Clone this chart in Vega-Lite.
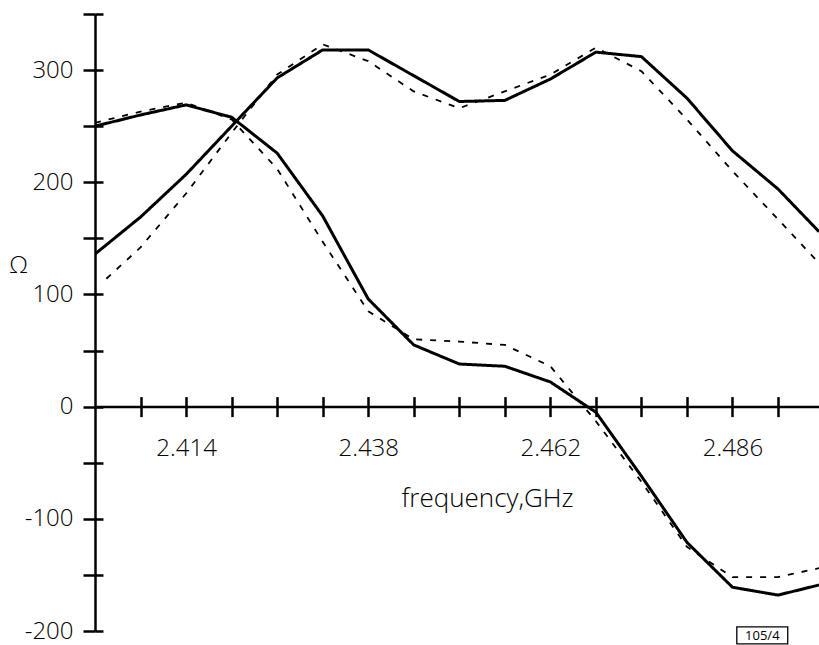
{
  "$schema": "https://vega.github.io/schema/vega-lite/v6.json",
  "width": 724,
  "height": 617,
  "autosize": "none",
  "padding": {"left": 95, "top": 14, "right": 0, "bottom": 14},
  "background": "white",
  "config": {
    "view": {"stroke": null},
    "axis": {
      "labelFont": "Open Sans", "titleFont": "Open Sans",
      "labelFontWeight": 300, "titleFontWeight": 300,
      "labelFontSize": 24, "titleFontSize": 26,
      "labelColor": "#000", "titleColor": "#000",
      "domainColor": "#000", "tickColor": "#000",
      "domainWidth": 2.5, "tickWidth": 2.5,
      "grid": false, "labelOverlap": false, "labelFlush": false
    }
  },
  "datasets": {
    "curves": [
      {"f": 2.402, "ohm": 136, "curve": "R", "line": "solid"},
      {"f": 2.408, "ohm": 169, "curve": "R", "line": "solid"},
      {"f": 2.414, "ohm": 207, "curve": "R", "line": "solid"},
      {"f": 2.420, "ohm": 250, "curve": "R", "line": "solid"},
      {"f": 2.426, "ohm": 293, "curve": "R", "line": "solid"},
      {"f": 2.432, "ohm": 318, "curve": "R", "line": "solid"},
      {"f": 2.438, "ohm": 318, "curve": "R", "line": "solid"},
      {"f": 2.444, "ohm": 295, "curve": "R", "line": "solid"},
      {"f": 2.450, "ohm": 272, "curve": "R", "line": "solid"},
      {"f": 2.456, "ohm": 273, "curve": "R", "line": "solid"},
      {"f": 2.462, "ohm": 292, "curve": "R", "line": "solid"},
      {"f": 2.468, "ohm": 316, "curve": "R", "line": "solid"},
      {"f": 2.474, "ohm": 312, "curve": "R", "line": "solid"},
      {"f": 2.480, "ohm": 275, "curve": "R", "line": "solid"},
      {"f": 2.486, "ohm": 228, "curve": "R", "line": "solid"},
      {"f": 2.492, "ohm": 194, "curve": "R", "line": "solid"},
      {"f": 2.4974, "ohm": 156, "curve": "R", "line": "solid"},

      {"f": 2.4035, "ohm": 114, "curve": "R", "line": "dashed"},
      {"f": 2.408, "ohm": 142, "curve": "R", "line": "dashed"},
      {"f": 2.414, "ohm": 190, "curve": "R", "line": "dashed"},
      {"f": 2.420, "ohm": 244, "curve": "R", "line": "dashed"},
      {"f": 2.426, "ohm": 296, "curve": "R", "line": "dashed"},
      {"f": 2.432, "ohm": 323, "curve": "R", "line": "dashed"},
      {"f": 2.438, "ohm": 308, "curve": "R", "line": "dashed"},
      {"f": 2.444, "ohm": 281, "curve": "R", "line": "dashed"},
      {"f": 2.450, "ohm": 266, "curve": "R", "line": "dashed"},
      {"f": 2.456, "ohm": 281, "curve": "R", "line": "dashed"},
      {"f": 2.462, "ohm": 296, "curve": "R", "line": "dashed"},
      {"f": 2.468, "ohm": 320, "curve": "R", "line": "dashed"},
      {"f": 2.474, "ohm": 299, "curve": "R", "line": "dashed"},
      {"f": 2.480, "ohm": 256, "curve": "R", "line": "dashed"},
      {"f": 2.486, "ohm": 210, "curve": "R", "line": "dashed"},
      {"f": 2.492, "ohm": 167, "curve": "R", "line": "dashed"},
      {"f": 2.4974, "ohm": 128, "curve": "R", "line": "dashed"},

      {"f": 2.402, "ohm": 250, "curve": "X", "line": "solid"},
      {"f": 2.408, "ohm": 260, "curve": "X", "line": "solid"},
      {"f": 2.414, "ohm": 269, "curve": "X", "line": "solid"},
      {"f": 2.420, "ohm": 258, "curve": "X", "line": "solid"},
      {"f": 2.426, "ohm": 226, "curve": "X", "line": "solid"},
      {"f": 2.432, "ohm": 170, "curve": "X", "line": "solid"},
      {"f": 2.438, "ohm": 96, "curve": "X", "line": "solid"},
      {"f": 2.444, "ohm": 55, "curve": "X", "line": "solid"},
      {"f": 2.450, "ohm": 38, "curve": "X", "line": "solid"},
      {"f": 2.456, "ohm": 36, "curve": "X", "line": "solid"},
      {"f": 2.462, "ohm": 22, "curve": "X", "line": "solid"},
      {"f": 2.468, "ohm": -5, "curve": "X", "line": "solid"},
      {"f": 2.474, "ohm": -62, "curve": "X", "line": "solid"},
      {"f": 2.480, "ohm": -121, "curve": "X", "line": "solid"},
      {"f": 2.486, "ohm": -161, "curve": "X", "line": "solid"},
      {"f": 2.492, "ohm": -168, "curve": "X", "line": "solid"},
      {"f": 2.4974, "ohm": -159, "curve": "X", "line": "solid"},

      {"f": 2.402, "ohm": 253, "curve": "X", "line": "dashed"},
      {"f": 2.408, "ohm": 263, "curve": "X", "line": "dashed"},
      {"f": 2.414, "ohm": 271, "curve": "X", "line": "dashed"},
      {"f": 2.420, "ohm": 256, "curve": "X", "line": "dashed"},
      {"f": 2.426, "ohm": 212, "curve": "X", "line": "dashed"},
      {"f": 2.432, "ohm": 147, "curve": "X", "line": "dashed"},
      {"f": 2.438, "ohm": 85, "curve": "X", "line": "dashed"},
      {"f": 2.444, "ohm": 60, "curve": "X", "line": "dashed"},
      {"f": 2.450, "ohm": 58, "curve": "X", "line": "dashed"},
      {"f": 2.456, "ohm": 55, "curve": "X", "line": "dashed"},
      {"f": 2.462, "ohm": 36, "curve": "X", "line": "dashed"},
      {"f": 2.468, "ohm": -13, "curve": "X", "line": "dashed"},
      {"f": 2.474, "ohm": -67, "curve": "X", "line": "dashed"},
      {"f": 2.480, "ohm": -125, "curve": "X", "line": "dashed"},
      {"f": 2.486, "ohm": -152, "curve": "X", "line": "dashed"},
      {"f": 2.492, "ohm": -152, "curve": "X", "line": "dashed"},
      {"f": 2.4974, "ohm": -144, "curve": "X", "line": "dashed"}
    ],
    "figlabel": [
      {"f0": 2.48657, "f1": 2.49328, "o0": -196.4, "o1": -211.5, "fc": 2.48993, "oc": -204.2, "text": "105/4"}
    ]
  },
  "data": {"name": "curves"},
  "layer": [
    {
      "mark": {"type": "line", "clip": true, "color": "#000", "strokeJoin": "round"},
      "encoding": {
        "x": {
          "field": "f", "type": "quantitative",
          "scale": {"domain": [2.402, 2.4974], "nice": false, "zero": false},
          "axis": {
            "orient": "bottom", "offset": -224.4,
            "values": [2.408, 2.414, 2.42, 2.426, 2.432, 2.438, 2.444, 2.45, 2.456, 2.462, 2.468, 2.474, 2.48, 2.486, 2.492],
            "tickSize": 10, "labelPadding": 20,
            "labelExpr": "(abs(datum.value - 2.414) < 0.0001 || abs(datum.value - 2.438) < 0.0001 || abs(datum.value - 2.462) < 0.0001 || abs(datum.value - 2.486) < 0.0001) ? format(datum.value, '.3f') : ''",
            "title": "frequency,GHz", "titleX": 392, "titleY": 92,
            "titleBaseline": "middle", "titleAlign": "center"
          }
        },
        "y": {
          "field": "ohm", "type": "quantitative",
          "scale": {"domain": [-200, 350], "nice": false, "zero": false},
          "axis": {
            "orient": "left",
            "values": [-200, -150, -100, -50, 0, 50, 100, 150, 200, 250, 300, 350],
            "tickSize": 12, "labelPadding": 10,
            "labelExpr": "(datum.value % 100 == 0 && datum.value <= 300) ? ('' + datum.value) : ''",
            "title": "Ω", "titleAngle": 0, "titleX": -77, "titleY": 251,
            "titleFontSize": 24,
            "titleAlign": "center", "titleBaseline": "middle"
          }
        },
        "detail": {"field": "curve"},
        "strokeDash": {
          "field": "line", "type": "nominal",
          "scale": {"domain": ["solid", "dashed"], "range": [[1, 0], [6, 8]]},
          "legend": null
        },
        "strokeWidth": {
          "field": "line", "type": "nominal",
          "scale": {"domain": ["solid", "dashed"], "range": [3, 1.8]},
          "legend": null
        }
      }
    },
    {
      "mark": {"type": "line", "opacity": 0},
      "encoding": {
        "x": {
          "field": "f", "type": "quantitative",
          "scale": {"domain": [2.402, 2.4974], "nice": false, "zero": false},
          "axis": {
            "orient": "top", "offset": -392.6,
            "values": [2.408, 2.414, 2.42, 2.426, 2.432, 2.438, 2.444, 2.45, 2.456, 2.462, 2.468, 2.474, 2.48, 2.486, 2.492],
            "tickSize": 10, "labels": false, "domain": false, "title": null
          }
        },
        "y": {
          "field": "ohm", "type": "quantitative",
          "scale": {"domain": [-200, 350], "nice": false, "zero": false},
          "axis": {
            "orient": "right", "offset": -724,
            "values": [-200, -150, -100, -50, 0, 50, 100, 150, 200, 250, 300, 350],
            "tickSize": 8, "labels": false, "domain": false, "title": null
          }
        },
        "detail": {"field": "curve"}
      }
    },
    {
      "data": {"name": "figlabel"},
      "mark": {"type": "rect", "fill": null, "stroke": "#000", "strokeWidth": 1.3, "clip": false},
      "encoding": {
        "x": {"field": "f0", "type": "quantitative", "axis": null},
        "x2": {"field": "f1"},
        "y": {"field": "o0", "type": "quantitative", "axis": null},
        "y2": {"field": "o1"}
      }
    },
    {
      "data": {"name": "figlabel"},
      "mark": {"type": "text", "font": "Open Sans", "fontSize": 13, "color": "#000", "align": "center", "baseline": "middle", "clip": false},
      "encoding": {
        "x": {"field": "fc", "type": "quantitative", "axis": null},
        "y": {"field": "oc", "type": "quantitative", "axis": null},
        "text": {"field": "text"}
      }
    }
  ],
  "resolve": {"axis": {"x": "independent", "y": "independent"}}
}
